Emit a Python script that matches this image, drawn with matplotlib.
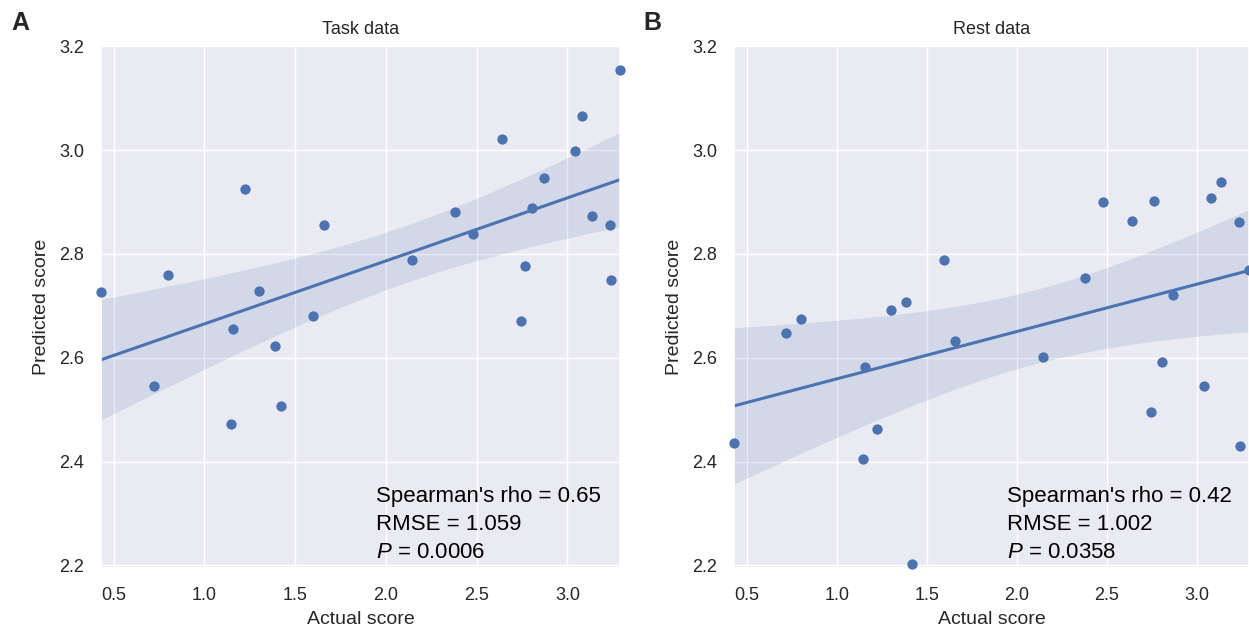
import numpy as np
import matplotlib
matplotlib.use('Agg')
import matplotlib.pyplot as plt
import seaborn as sns

# actual scores (shared by both panels)
actual = [0.43, 0.72, 0.80, 1.146, 1.159, 1.226, 1.30, 1.386, 1.419, 1.597,
          1.658, 2.145, 2.379, 2.481, 2.64, 2.746, 2.764, 2.806, 2.87, 3.04,
          3.08, 3.134, 3.234, 3.24, 3.29]

# predicted scores, task data
pred_task = [2.726, 2.545, 2.759, 2.472, 2.655, 2.925, 2.728, 2.623, 2.507, 2.681,
             2.856, 2.789, 2.880, 2.838, 3.022, 2.670, 2.777, 2.889, 2.947, 2.999,
             3.066, 2.873, 2.856, 2.750, 3.155]

# predicted scores, rest data
pred_rest = [2.435, 2.647, 2.675, 2.405, 2.582, 2.463, 2.691, 2.707, 2.202, 2.789,
             2.632, 2.601, 2.754, 2.899, 2.864, 2.496, 2.901, 2.591, 2.720, 2.545,
             2.908, 2.938, 2.862, 2.430, 2.768]

titles = ['Task data', 'Rest data']
panel_labels = ['A', 'B']
stats = ["Spearman's rho = 0.65\nRMSE = 1.059\n$P$ = 0.0006",
         "Spearman's rho = 0.42\nRMSE = 1.002\n$P$ = 0.0358"]

sns.set_theme(style='darkgrid')
plt.rcParams['font.family'] = ['Liberation Sans', 'DejaVu Sans']
plt.rcParams['mathtext.fontset'] = 'custom'
plt.rcParams['mathtext.rm'] = 'Liberation Sans'
plt.rcParams['mathtext.it'] = 'Liberation Sans:italic'

blue = '#4C72B0'
t95 = 2.0687  # t quantile, df = 23

fig = plt.figure(figsize=(12.49, 6.28), dpi=100)
axes = [fig.add_axes([0.0809, 0.0955, 0.4155, 0.831]),
        fig.add_axes([0.5877, 0.0955, 0.4123, 0.831])]

x = np.array(actual)
for ax, yv, title, txt in zip(axes, [pred_task, pred_rest], titles, stats):
    y = np.array(yv)
    # linear fit with 95% confidence band
    b, a = np.polyfit(x, y, 1)
    xs = np.linspace(x.min(), x.max(), 100)
    ys = a + b * xs
    resid = y - (a + b * x)
    s = np.sqrt(np.sum(resid ** 2) / (len(x) - 2))
    se = s * np.sqrt(1 / len(x) + (xs - x.mean()) ** 2 / np.sum((x - x.mean()) ** 2))
    ax.fill_between(xs, ys - t95 * se, ys + t95 * se, color=blue, alpha=0.15, lw=0)
    ax.plot(xs, ys, color=blue, lw=2.2)
    ax.scatter(x, y, s=55, color=blue, lw=0, zorder=3, clip_on=False)

    ax.set_xlim(x.min(), x.max())
    ax.set_ylim(2.195, 3.2)
    ax.set_xticks([0.5, 1.0, 1.5, 2.0, 2.5, 3.0])
    ax.set_yticks([2.2, 2.4, 2.6, 2.8, 3.0, 3.2])
    ax.tick_params(axis='x', labelsize=13, colors='#262626', pad=8)
    ax.tick_params(axis='y', labelsize=13, colors='#262626', pad=6)
    ax.set_xlabel('Actual score', fontsize=14, labelpad=5)
    ax.set_ylabel('Predicted score', fontsize=14, labelpad=7)
    ax.set_title(title, fontsize=13, pad=9)
    ax.text(0.53, 0.01, txt, transform=ax.transAxes, fontsize=16,
            color='black', va='bottom', ha='left', linespacing=1.42)

fig.text(0.009, 0.983, 'A', fontsize=18, fontweight='bold', va='top')
fig.text(0.515, 0.983, 'B', fontsize=18, fontweight='bold', va='top')

plt.savefig('out.png', dpi=100)
